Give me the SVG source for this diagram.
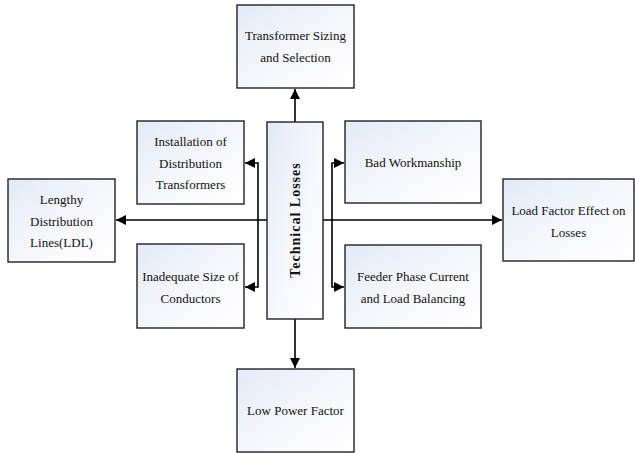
<svg xmlns="http://www.w3.org/2000/svg" width="635" height="453" viewBox="0 0 635 453">
<style>
.box{fill:url(#g);stroke:#222;stroke-width:1.4}
.t{font-family:"Liberation Serif","Times New Roman",serif;font-size:13px;fill:#111;text-anchor:middle}
.c{fill:none;stroke:#000;stroke-width:1.6}
</style>
<defs>
<linearGradient id="g" x1="0" y1="0" x2="1" y2="1">
<stop offset="0" stop-color="#e3eaf6"/>
<stop offset="0.6" stop-color="#f8f9fd"/>
<stop offset="1" stop-color="#ffffff"/>
</linearGradient>
<marker id="a" viewBox="0 0 10 10" refX="10" refY="5" markerWidth="6.5" markerHeight="6.5" orient="auto" markerUnits="strokeWidth">
<path d="M0,0 L10,5 L0,10 z" fill="#000"/>
</marker>
</defs>
<rect width="635" height="453" fill="#fff"/>
<g id="connectors">
<path class="c" d="M295,122 V89" marker-end="url(#a)"/>
<path class="c" d="M295,319 V368" marker-end="url(#a)"/>
<path class="c" d="M267,220 H116" marker-end="url(#a)"/>
<path class="c" d="M323,220 H502" marker-end="url(#a)"/>
<path class="c" d="M258,220 V163 H245" marker-end="url(#a)"/>
<path class="c" d="M258,220 V287 H245" marker-end="url(#a)"/>
<path class="c" d="M332,220 V163 H344" marker-end="url(#a)"/>
<path class="c" d="M332,220 V287 H344" marker-end="url(#a)"/>
</g>
<g id="n-transformer-sizing">
<rect class="box" x="237" y="5" width="117" height="83"/>
<text class="t" x="295.5" y="40">Transformer Sizing</text>
<text class="t" x="295.5" y="62">and Selection</text>
</g>
<g id="n-installation">
<rect class="box" x="137" y="121" width="107" height="83"/>
<text class="t" x="190.5" y="146">Installation of</text>
<text class="t" x="190.5" y="168">Distribution</text>
<text class="t" x="190.5" y="189">Transformers</text>
</g>
<g id="n-technical-losses">
<rect class="box" x="267" y="122" width="56" height="197"/>
<text transform="translate(300,220) rotate(-90)" style="font-family:'Liberation Serif','Times New Roman',serif;font-size:14px;font-weight:bold;fill:#111;text-anchor:middle;letter-spacing:1px">Technical Losses</text>
</g>
<g id="n-bad-workmanship">
<rect class="box" x="345" y="121" width="136" height="82"/>
<text class="t" x="413" y="166.5">Bad Workmanship</text>
</g>
<g id="n-lengthy">
<rect class="box" x="8" y="179" width="107" height="83"/>
<text class="t" x="61.5" y="204">Lengthy</text>
<text class="t" x="61.5" y="225.5">Distribution</text>
<text class="t" x="61.5" y="247">Lines(LDL)</text>
</g>
<g id="n-load-factor">
<rect class="box" x="503" y="179" width="131" height="82"/>
<text class="t" x="568.5" y="215">Load Factor Effect on</text>
<text class="t" x="568.5" y="237">Losses</text>
</g>
<g id="n-inadequate">
<rect class="box" x="137" y="244" width="107" height="84"/>
<text class="t" x="190.5" y="281">Inadequate Size of</text>
<text class="t" x="190.5" y="303">Conductors</text>
</g>
<g id="n-feeder">
<rect class="box" x="345" y="245" width="136" height="83"/>
<text class="t" x="413" y="281">Feeder Phase Current</text>
<text class="t" x="413" y="303">and Load Balancing</text>
</g>
<g id="n-low-power">
<rect class="box" x="237" y="369" width="117" height="83"/>
<text class="t" x="295.5" y="415">Low Power Factor</text>
</g>
</svg>
